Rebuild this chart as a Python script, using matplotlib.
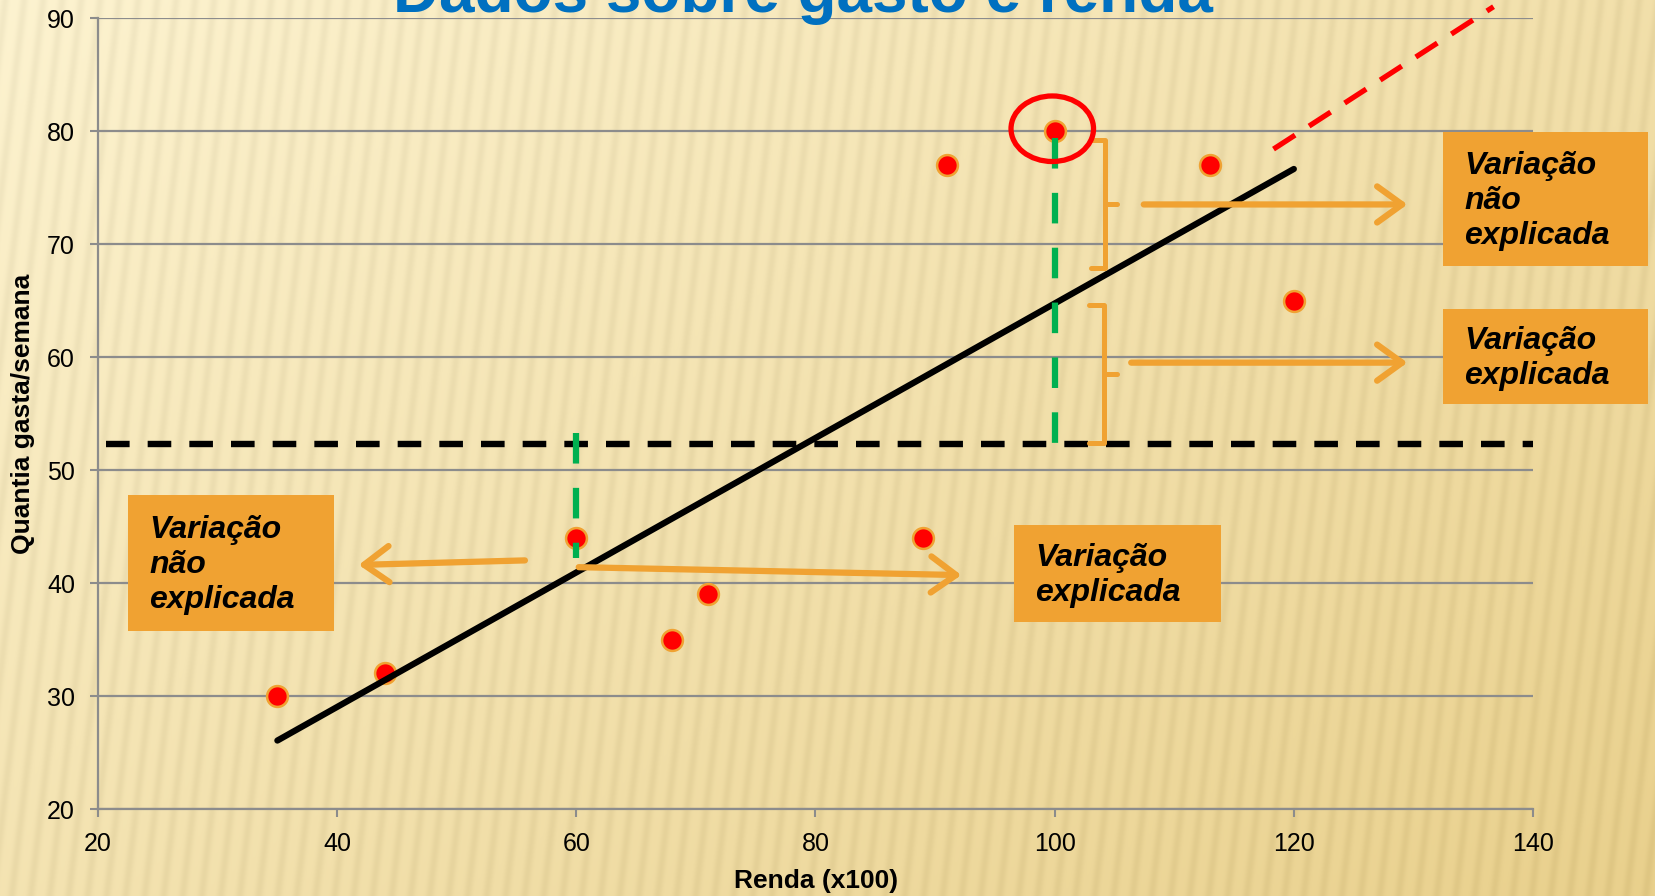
#!/usr/bin/env python3
# -*- coding: utf-8 -*-
"""Dados sobre gasto e renda : variacao explicada / nao explicada."""
import numpy as np
import matplotlib
matplotlib.use("Agg")
import matplotlib.pyplot as plt
from matplotlib.patches import Ellipse, Rectangle

plt.rcParams['font.family'] = ['Liberation Sans', 'DejaVu Sans']
plt.rcParams['lines.scale_dashes'] = False

# donnees
renda = [35, 44, 60, 68, 71, 89, 91, 100, 113, 120]
gasto = [30, 32, 44, 35, 39, 44, 77, 80, 77, 65]
xticks = [20, 40, 60, 80, 100, 120, 140]
yticks = [20, 30, 40, 50, 60, 70, 80, 90]
# reta tracejada vermelha (fora da regressao)
reta_x = [118.3, 136.7]
reta_y = [78.4, 91.0]

LARG, ALT = 1656, 896
LARANJA = '#F0A232'
CINZA = '#8C8C8C'

fig = plt.figure(figsize=(LARG / 100, ALT / 100), dpi=100)

# fundo creme com listras quase verticais
bg = fig.add_axes([0, 0, 1, 1], zorder=-10)
yy, xx = np.mgrid[0:ALT, 0:LARG]
t = np.clip(0.55 * xx / LARG + 0.45 * yy / ALT, 0, 1)[..., None]
topo = np.array([253, 243, 208]) / 255
baixo = np.array([233, 208, 140]) / 255
cor = topo * (1 - t) + baixo * t
listra = 0.5 * (1 + np.sin(2 * np.pi * (xx + 0.12 * yy) / 19.0))
cor = cor - 0.04 * listra[..., None] ** 2
bg.imshow(np.clip(cor, 0, 1), aspect='auto', extent=[0, 1, 0, 1])
bg.set_axis_off()


def px(x, y):
    """pixel (a partir do canto superior esquerdo) -> fracao da figura"""
    return x / LARG, 1 - y / ALT


x0, y0 = px(98, 809)
x1, y1 = px(1533, 18)
ax = fig.add_axes([x0, y0, x1 - x0, y1 - y0])
ax.set_facecolor('none')
ax.set_xlim(20, 140)
ax.set_ylim(20, 90)
ax.set_xticks(xticks)
ax.set_yticks(yticks)
ax.tick_params(labelsize=18, length=5.5, width=1.5, color=CINZA, pad=11)
for s in ['top', 'right']:
    ax.spines[s].set_visible(False)
for s in ['left', 'bottom']:
    ax.spines[s].set_color(CINZA)
    ax.spines[s].set_linewidth(1.6)
ax.yaxis.grid(True, color=CINZA, lw=1.6)
ax.set_axisbelow(True)

# pontos
ax.plot(renda, gasto, 'o', ms=15, mfc='#FF0000', mec=LARANJA, mew=1.8, zorder=3)

# reta de regressao
a, b = np.polyfit(renda, gasto, 1)
xr = np.array([min(renda), max(renda)])
ax.plot(xr, a * xr + b, color='black', lw=4.5, solid_capstyle='round', zorder=4)

# media
media = np.mean(gasto)
ax.plot([20.7, 140], [media, media], color='black', lw=4.6,
        linestyle=(0, (17, 13)), zorder=4)

# reta vermelha tracejada
ax.plot(reta_x, reta_y, color='#FF0000', lw=3.8, linestyle=(0, (18.5, 12)),
        clip_on=False, zorder=4)

# linhas verdes
verde = '#00B050'
ax.plot([100, 100], [79.4, 52.4], color=verde, lw=4.5, linestyle=(0, (22, 17.5)), zorder=5)
ax.plot([60, 60], [53.3, 42.2], color=verde, lw=4.5, linestyle=(0, (22, 17.5)), zorder=5)

# circulo vermelho
ax.add_patch(Ellipse((99.8, 80.2), 6.9, 5.8, fill=False, ec='#FF0000', lw=3.8,
                     clip_on=False, zorder=6))

# chaves
for (xa, xb, xc, ya, yb, ym) in [(103.0, 104.2, 105.2, 79.2, 67.9, 73.5),
                                (102.9, 104.1, 105.2, 64.6, 52.4, 58.5)]:
    ax.plot([xa, xb, xb, xa], [ya, ya, yb, yb], color=LARANJA, lw=3.6,
            solid_joinstyle='round', solid_capstyle='round', zorder=5)
    ax.plot([xb, xc], [ym, ym], color=LARANJA, lw=3.6, solid_capstyle='round', zorder=5)

# setas
seta = dict(arrowstyle='->,head_length=0.9,head_width=0.65', color=LARANJA,
            lw=4.5, mutation_scale=20, shrinkA=0, shrinkB=0,
            capstyle='round', joinstyle='round')
for (xa, ya), (xb, yb) in [((107.45, 73.5), (129.5, 73.5)),
                           ((106.4, 59.5), (129.5, 59.5)),
                           ((55.7, 42.0), (41.8, 41.6)),
                           ((60.2, 41.4), (92.2, 40.7))]:
    ax.annotate('', xy=(xb, yb), xytext=(xa, ya), arrowprops=seta, zorder=5)


# caixas laranja
def caixa(xa, ya, xb, yb, texto):
    fx, fy = px(xa, yb)
    fw, fh = (xb - xa) / LARG, (yb - ya) / ALT
    fig.add_artist(Rectangle((fx, fy), fw, fh, transform=fig.transFigure,
                             fc=LARANJA, ec='none', zorder=7))
    tx, ty = px(xa + 21, (ya + yb) / 2 + 2)
    fig.text(tx, ty, texto, ha='left', va='center', fontsize=23,
             fontweight='bold', style='italic', linespacing=1.2, zorder=8)


caixa(1443, 132, 1648, 266, 'Variação\nnão\nexplicada')
caixa(1443, 309, 1648, 404, 'Variação\nexplicada')
caixa(128, 495, 334, 631, 'Variação\nnão\nexplicada')
caixa(1014, 525, 1221, 622, 'Variação\nexplicada')

# titulo (cortado no topo, como no original)
tx, ty = px(803, 12)
fig.text(tx, ty, 'Dados sobre gasto e renda', ha='center', va='baseline',
         fontsize=46, fontweight='bold', color='#0070C0')

# rotulos dos eixos
tx, ty = px(816, 888)
fig.text(tx, ty, 'Renda (x100)', ha='center', va='baseline', fontsize=19, fontweight='bold')
tx, ty = px(23, 414)
fig.text(tx, ty, 'Quantia gasta/semana', ha='center', va='center', rotation=90,
         fontsize=19, fontweight='bold')

fig.savefig('out.png', dpi=100)
